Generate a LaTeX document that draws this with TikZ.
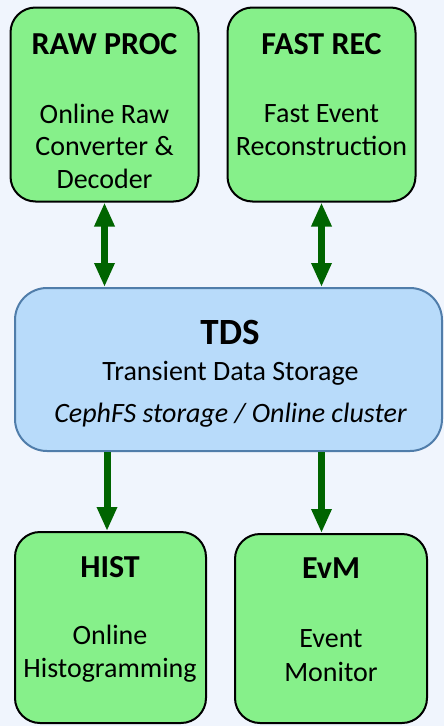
\documentclass[tikz,border=0pt]{standalone}
\usepackage{fontspec}
\setmainfont{Carlito}
\usetikzlibrary{arrows.meta}
\definecolor{bgc}{RGB}{240,245,253}
\definecolor{boxgreen}{RGB}{134,240,138}
\definecolor{boxblue}{RGB}{184,219,250}
\definecolor{blueedge}{RGB}{80,125,170}
\definecolor{arrgreen}{RGB}{0,100,0}
\begin{document}
\begin{tikzpicture}[x=1pt,y=-1pt,
  gbox/.style={draw=black,line width=2pt,fill=boxgreen,rounded corners=25pt,inner sep=0pt},
  bbox/.style={draw=blueedge,line width=2pt,fill=boxblue,rounded corners=32pt,inner sep=0pt},
  ttl/.style={anchor=base,inner sep=0pt,font=\fontsize{32}{36}\selectfont\bfseries},
  txt/.style={anchor=base,inner sep=0pt,font=\fontsize{28}{33}\selectfont},
  flow/.style={draw=arrgreen,line width=7pt,-{Triangle[width=19pt,length=24pt]}},
  flowboth/.style={draw=arrgreen,line width=7pt,{Triangle[width=19pt,length=24pt]}-{Triangle[width=19pt,length=24pt]}}
]
\fill[bgc] (0,0) rectangle (444,726);
\useasboundingbox (0,0) rectangle (444,726);

\node[gbox,minimum width=188pt,minimum height=194pt] (raw) at (104.5,104.5) {};
\node[gbox,minimum width=188pt,minimum height=194pt] (fast) at (321.5,104.5) {};
\node[bbox,minimum width=427pt,minimum height=163pt] (tds) at (228.5,369.5) {};
\node[gbox,minimum width=191pt,minimum height=191pt] (hist) at (110.5,627.5) {};
\node[gbox,minimum width=192pt,minimum height=189pt] (evm) at (331,628.5) {};

\node[ttl] (rawt) at (104.5,54) {RAW PROC};
\node[txt] (raw1) at (104.5,123) {Online Raw};
\node[txt] (raw2) at (104.5,155.5) {Converter \&};
\node[txt] (raw3) at (104.5,188) {Decoder};

\node[ttl] (fastt) at (321.5,54) {FAST REC};
\node[txt] (fast1) at (321.5,122) {Fast Event};
\node[txt] (fast2) at (321.5,155) {Reconstruction};

\node[ttl,font=\fontsize{37}{42}\selectfont\bfseries] (tdst) at (230,344) {TDS};
\node[txt] (tds1) at (230.5,380) {Transient Data Storage};
\node[txt,font=\fontsize{28}{33}\selectfont\itshape] (tds2) at (230.5,422) {CephFS storage / Online cluster};

\node[ttl] (histt) at (110,577) {HIST};
\node[txt] (hist1) at (110,644) {Online};
\node[txt] (hist2) at (110,677) {Histogramming};

\node[ttl] (evmt) at (331,578) {EvM};
\node[txt] (evm1) at (331,647) {Event};
\node[txt] (evm2) at (331,681) {Monitor};

\draw[flowboth] (raw.south) -- (raw.south |- tds.north);
\draw[flowboth] (fast.south) -- (fast.south |- tds.north);
\draw[flow] ([xshift=-3.5pt]hist.north |- tds.south) -- ([xshift=-3.5pt]hist.north);
\draw[flow] (fast.south |- tds.south) -- (fast.south |- evm.north);
\end{tikzpicture}
\end{document}
